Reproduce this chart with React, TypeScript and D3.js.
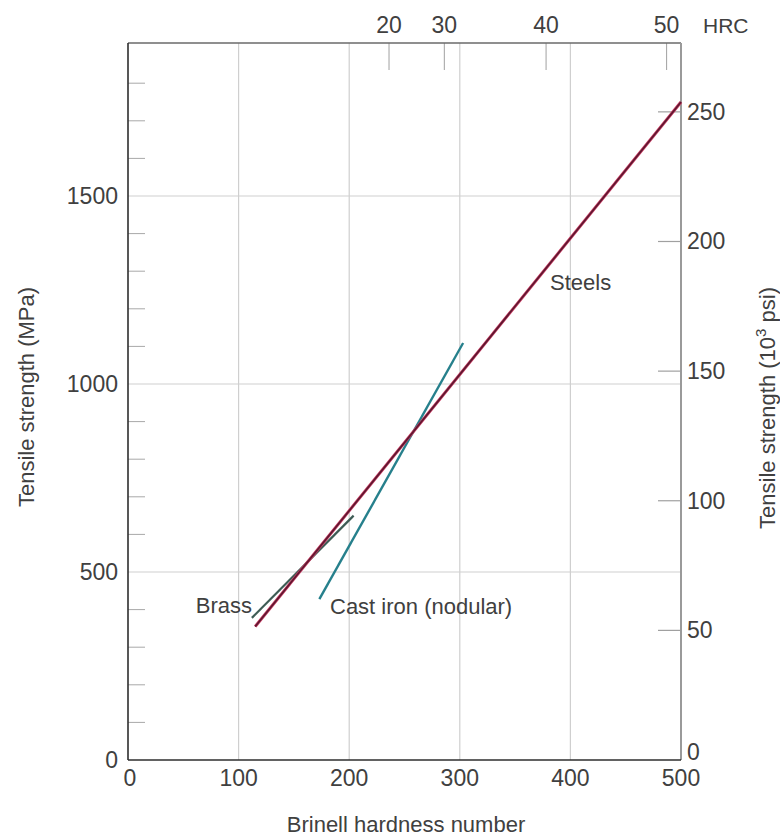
import React from "react";
import * as d3 from "d3";

// Brinell hardness (HB) vs tensile strength (MPa)
const steelHB = [115, 500];
const steelMPa = [355, 1750];
const brassHB = [112, 204];
const brassMPa = [378, 650];
const castIronHB = [173, 303];
const castIronMPa = [428, 1109];

const xTicks = [0, 100, 200, 300, 400, 500];
const yMajorTicks = [0, 500, 1000, 1500];
const yMinorTicks = [100, 200, 300, 400, 600, 700, 800, 900, 1100, 1200, 1300, 1400, 1600, 1700, 1800];
const ksiTicks = [0, 50, 100, 150, 200, 250];
const hrcLabels = [20, 30, 40, 50];
const hrcBrinell = [236, 286, 378, 487];

const MPA_PER_KSI = 6.895;

const W = 780;
const H = 837;
const font = "'Liberation Sans', Arial, sans-serif";
const textColor = "#404040";

export default function App() {
  const x = d3.scaleLinear().domain([0, 500]).range([128, 681]);
  const y = d3.scaleLinear().domain([0, 1900]).range([760, 45.6]);
  const line = d3
    .line<[number, number]>()
    .x((d) => x(d[0]))
    .y((d) => y(d[1]));
  const pts = (hb: number[], mpa: number[]) => hb.map((h, i) => [h, mpa[i]] as [number, number]);

  const left = x(0);
  const right = x(500);
  const bottom = y(0);
  const top = 43;

  return (
    <div style={{ position: "absolute", left: 0, top: 0 }}>
      <svg width={W} height={H} style={{ display: "block", background: "#fff" }}>
        {/* vertical grid */}
        {xTicks.slice(1, -1).map((t) => (
          <line key={"vg" + t} x1={x(t)} x2={x(t)} y1={top} y2={bottom} stroke="#cfcfcf" strokeWidth={1.2} />
        ))}
        {/* horizontal grid */}
        {yMajorTicks.slice(1).map((t) => (
          <line key={"hg" + t} x1={left} x2={right} y1={y(t)} y2={y(t)} stroke="#cfcfcf" strokeWidth={1.2} />
        ))}
        {/* left minor ticks */}
        {yMinorTicks.map((t) => (
          <line key={"ym" + t} x1={left} x2={left + 17} y1={y(t)} y2={y(t)} stroke="#a8a8a8" strokeWidth={1} />
        ))}
        {/* right ksi ticks */}
        {ksiTicks.slice(1).map((t) => (
          <line
            key={"rk" + t}
            x1={right - 23}
            x2={right}
            y1={y(t * MPA_PER_KSI)}
            y2={y(t * MPA_PER_KSI)}
            stroke="#a0a0a0"
            strokeWidth={1.2}
          />
        ))}
        {/* HRC ticks */}
        {hrcBrinell.map((b, i) => (
          <line key={"hrc" + i} x1={x(b)} x2={x(b)} y1={top} y2={top + 27} stroke="#a0a0a0" strokeWidth={1} />
        ))}

        {/* frame */}
        <line x1={left} x2={right} y1={top} y2={top} stroke="#6a6a6a" strokeWidth={1.6} />
        <line x1={right} x2={right} y1={top} y2={bottom} stroke="#9a9a9a" strokeWidth={2} />
        <line x1={left} x2={left} y1={top} y2={bottom} stroke="#2e2e2e" strokeWidth={1.6} />
        <line x1={left} x2={right} y1={bottom} y2={bottom} stroke="#2e2e2e" strokeWidth={1.6} />

        {/* data lines */}
        <path d={line(pts(brassHB, brassMPa)) || ""} stroke="#3e5c55" strokeWidth={2.2} fill="none" />
        <path d={line(pts(castIronHB, castIronMPa)) || ""} stroke="#26808c" strokeWidth={2.4} fill="none" />
        <path d={line(pts(steelHB, steelMPa)) || ""} stroke="#c83a60" strokeWidth={3} fill="none" />
        <path d={line(pts(steelHB, steelMPa)) || ""} stroke="#5c1830" strokeWidth={1.6} fill="none" />

        {/* tick labels */}
        <g fontFamily={font} fontSize={23} fill={textColor}>
          {xTicks.map((t) => (
            <text key={"xl" + t} x={x(t) + (t === 0 ? 2 : 0)} y={bottom + 26} textAnchor="middle">
              {t}
            </text>
          ))}
          {yMajorTicks.map((t) => (
            <text key={"yl" + t} x={left - 10} y={y(t) + 8} textAnchor="end">
              {t}
            </text>
          ))}
          {ksiTicks.map((t) => (
            <text key={"kl" + t} x={right + 6} y={y(t * MPA_PER_KSI) + (t === 0 ? 0 : 8)} textAnchor="start">
              {t}
            </text>
          ))}
          {hrcBrinell.map((b, i) => (
            <text key={"hl" + i} x={x(b)} y={33} textAnchor="middle">
              {hrcLabels[i]}
            </text>
          ))}
          <text x={703} y={33} textAnchor="start" fontSize={21}>
            HRC
          </text>
        </g>

        {/* series labels */}
        <g fontFamily={font} fontSize={22} fill={textColor}>
          <text x={252} y={613} textAnchor="end">
            Brass
          </text>
          <text x={330} y={614} textAnchor="start">
            Cast iron (nodular)
          </text>
          <text x={550} y={290} textAnchor="start">
            Steels
          </text>
        </g>

        {/* axis titles */}
        <g fontFamily={font} fontSize={22} fill={textColor}>
          <text x={406} y={832} textAnchor="middle">
            Brinell hardness number
          </text>
          <text transform="translate(34,397) rotate(-90)" textAnchor="middle">
            Tensile strength (MPa)
          </text>
          <text transform="translate(775,408) rotate(-90)" textAnchor="middle">
            Tensile strength (10
            <tspan dy={-9} fontSize={15}>
              3
            </tspan>
            <tspan dy={9}> psi)</tspan>
          </text>
        </g>
      </svg>
    </div>
  );
}
